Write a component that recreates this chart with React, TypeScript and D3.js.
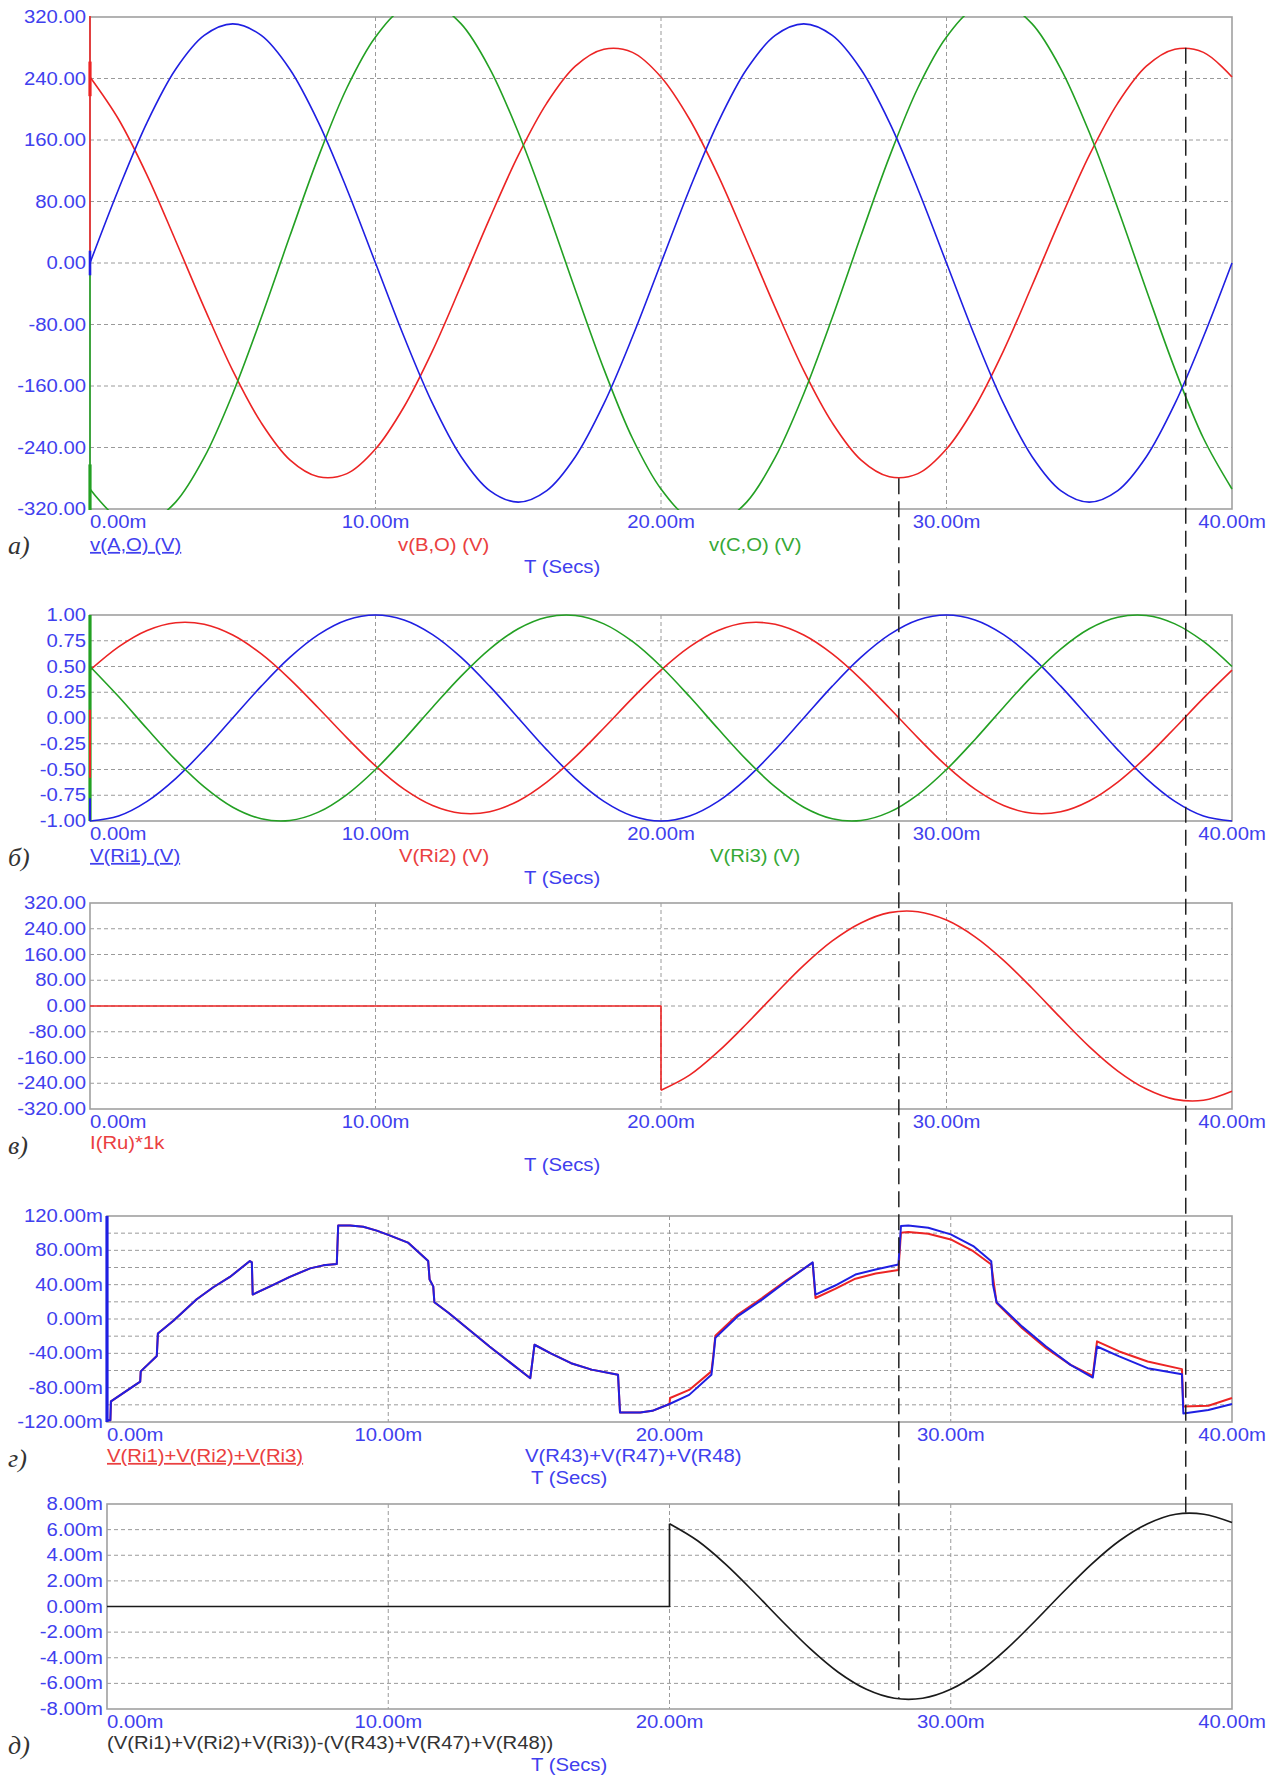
import React, { useEffect, useRef } from 'react';
import * as d3 from 'd3';

// time samples (ms)
const tMs = [0, 1, 2, 3, 4, 5, 6, 7, 8, 9, 10, 11, 12, 13, 14, 15, 16, 17, 18, 19, 20,
  21, 22, 23, 24, 25, 26, 27, 28, 29, 30, 31, 32, 33, 34, 35, 36, 37, 38, 39, 40];
const tHalf = [20, 21, 22, 23, 24, 25, 26, 27, 28, 29, 30, 31, 32, 33, 34, 35, 36, 37, 38, 39, 40];
const xTicks = [0, 10, 20, 30, 40];

// panel а) phase voltages
const vAO = [0, 96, 183, 252, 296, 311, 296, 252, 183, 96, 0, -96, -183, -252, -296, -311, -296, -252, -183, -96,
  0, 96, 183, 252, 296, 311, 296, 252, 183, 96, 0, -96, -183, -252, -296, -311, -296, -252, -183, -96, 0];
const vBO = [242, 187, 114, 29, -58, -140, -208, -256, -278, -274, -242, -187, -114, -29, 58, 140, 208, 256, 278, 274,
  242, 187, 114, 29, -58, -140, -208, -256, -278, -274, -242, -187, -114, -29, 58, 140, 208, 256, 278, 274, 242];
const vCO = [-294, -332, -338, -311, -253, -170, -71, 35, 138, 228, 294, 332, 338, 311, 253, 170, 71, -35, -138, -228,
  -294, -332, -338, -311, -253, -170, -71, 35, 138, 228, 294, 332, 338, 311, 253, 170, 71, -35, -138, -228, -294];
const spikeAO = [-16, 16];
const spikeBO = [-10, 330];
const spikeBOThick = [217, 262];
const spikeCO = [-10, -330];
const spikeCOThick = [-262, -330];
const yTicksA = [320, 240, 160, 80, 0, -80, -160, -240, -320];

// panel б)
const vRi1 = [-1, -0.951, -0.809, -0.588, -0.309, 0, 0.309, 0.588, 0.809, 0.951, 1, 0.951, 0.809, 0.588, 0.309, 0, -0.309, -0.588, -0.809, -0.951,
  -1, -0.951, -0.809, -0.588, -0.309, 0, 0.309, 0.588, 0.809, 0.951, 1, 0.951, 0.809, 0.588, 0.309, 0, -0.309, -0.588, -0.809, -0.951, -1];
const vRi2 = [0.465, 0.691, 0.85, 0.925, 0.91, 0.805, 0.622, 0.378, 0.097, -0.193, -0.465, -0.691, -0.85, -0.925, -0.91, -0.805, -0.622, -0.378, -0.097, 0.193,
  0.465, 0.691, 0.85, 0.925, 0.91, 0.805, 0.622, 0.378, 0.097, -0.193, -0.465, -0.691, -0.85, -0.925, -0.91, -0.805, -0.622, -0.378, -0.097, 0.193, 0.465];
const vRi3 = [0.5, 0.208, -0.105, -0.407, -0.669, -0.866, -0.978, -0.995, -0.914, -0.743, -0.5, -0.208, 0.105, 0.407, 0.669, 0.866, 0.978, 0.995, 0.914, 0.743,
  0.5, 0.208, -0.105, -0.407, -0.669, -0.866, -0.978, -0.995, -0.914, -0.743, -0.5, -0.208, 0.105, 0.407, 0.669, 0.866, 0.978, 0.995, 0.914, 0.743, 0.5];
const spikeRi1 = [-1, -0.78];
const spikeRi2 = [0.08, -0.58];
const spikeRi3 = [-1, 1];
const yTicksB = [1, 0.75, 0.5, 0.25, 0, -0.25, -0.5, -0.75, -1];

// panel в) I(Ru)*1k
const iRuFlat = [0, 0];
const iRuWave = [-262, -215, -142, -55, 37, 126, 202, 258, 290, 293, 267, 215, 142, 55, -37, -126, -202, -258, -290, -293, -265];
const yTicksC = [320, 240, 160, 80, 0, -80, -160, -240, -320];

// panel г) sums, mV
const sumR: [number, number][] = [
  [0, -118], [0.12, -118], [0.14, -96], [1.18, -73], [1.2, -61], [1.77, -43], [1.81, -17], [2.36, -2], [3.19, 23],
  [3.78, 37], [4.37, 49], [5.08, 67.5], [5.15, 66], [5.18, 28.5], [5.8, 38], [6.5, 49], [7.22, 59], [7.69, 62.5],
  [8.17, 64], [8.22, 109], [8.64, 109], [9.11, 107.5], [9.59, 103], [10.0, 98], [10.7, 89], [11.42, 67.5],
  [11.47, 46], [11.6, 38], [11.64, 19.5], [12.15, 7], [13.6, -32], [15.05, -69], [15.2, -30], [15.78, -40],
  [16.5, -51.5], [17.23, -59], [18.17, -65], [18.24, -109], [18.96, -109], [19.39, -107], [20.0, -99],
  [20.7, -88.4], [21.49, -65], [21.56, -45], [21.63, -22], [22.42, 3], [23.29, 22.6], [24.16, 44], [25.09, 66],
  [25.19, 28.4], [25.89, 39], [26.61, 51.8], [27.33, 57.7], [28.14, 63.5], [28.23, 108.3], [28.49, 109],
  [29.2, 106.4], [30.0, 98.6], [30.8, 85], [31.44, 67.4], [31.5, 40], [31.63, 19.5], [32.53, -8.6], [33.39, -32],
  [34.26, -53.4], [35.05, -68.2], [35.2, -32], [35.99, -43.6], [37.0, -57.3], [38.22, -64.3], [38.27, -110],
  [39.16, -106], [40.0, -99]
];
const sumRiTail: [number, number][] = [
  [20.0, -99], [20.02, -92], [20.7, -82.6], [21.49, -61], [21.56, -42], [21.63, -19.5], [22.42, 5], [23.29, 24.5],
  [24.16, 45], [25.09, 65.5], [25.19, 24.5], [25.89, 35], [26.61, 47], [27.33, 53], [28.14, 57], [28.23, 100.5],
  [28.49, 101.3], [29.2, 99.4], [30.0, 92.7], [30.8, 79], [31.44, 63.5], [31.63, 18.7], [32.53, -10.5],
  [33.39, -34], [34.26, -53.4], [35.05, -66.2], [35.2, -26], [35.99, -37.8], [37.0, -49.5], [38.22, -58.4],
  [38.27, -102], [39.16, -101], [40.0, -92]
];
const spikeR = [-120, 120];
const yTicksD = [120, 80, 40, 0, -40, -80, -120];
const yGridD = [120, 100, 80, 60, 40, 20, 0, -20, -40, -60, -80, -100, -120];

// panel д) difference, mV
const diffFlat = [0, 0];
const diffWave = [6.46, 5.13, 3.29, 1.13, -1.13, -3.29, -5.13, -6.46, -7.16, -7.16, -6.46, -5.13, -3.29, -1.13,
  1.13, 3.29, 5.13, 6.46, 7.2, 7.2, 6.55];
const yTicksE = [8, 6, 4, 2, 0, -2, -4, -6, -8];

// vertical dashed markers
const markerT = [28.33, 38.38];
const markerFrom = [-280, 280];
const markerTo = [-7.2, 7.3];

const BLUE = '#1f1fe2';
const RED = '#ec2424';
const GREEN = '#23a023';
const BLACK = '#1a1a1a';
const TXT_BLUE = '#4040ee';
const TXT_RED = '#ea4040';
const TXT_GREEN = '#36a836';
const TXT_BLACK = '#333333';
const FONT = '"Liberation Sans", Arial, sans-serif';
const SX = 1.16;

function addText(g, x, y, str, color, anchor = 'start', underline = false) {
  g.append('text')
    .attr('transform', `translate(${x},${y}) scale(${SX},1)`)
    .attr('text-anchor', anchor)
    .attr('font-family', FONT)
    .attr('font-size', 17.5)
    .attr('fill', color)
    .style('text-decoration', underline ? 'underline' : 'none')
    .text(str);
}

function drawPanel(svg, p) {
  const x = d3.scaleLinear().domain([0, 40]).range([p.left, p.right]);
  const y = d3.scaleLinear().domain([p.yTicks[p.yTicks.length - 1], p.yTicks[0]]).range([p.bottom, p.top]);
  const g = svg.append('g');

  // grid
  g.selectAll('.vg').data(xTicks.slice(1, -1)).join('line')
    .attr('x1', d => x(d)).attr('x2', d => x(d))
    .attr('y1', p.top).attr('y2', p.bottom)
    .attr('stroke', '#9a9a9a').attr('stroke-width', 1).attr('stroke-dasharray', '4,3');
  g.selectAll('.hg').data((p.yGrid || p.yTicks).slice(1, -1)).join('line')
    .attr('x1', p.left).attr('x2', p.right)
    .attr('y1', d => y(d)).attr('y2', d => y(d))
    .attr('stroke', '#9a9a9a').attr('stroke-width', 1).attr('stroke-dasharray', '4,3');

  g.append('rect')
    .attr('x', p.left).attr('y', p.top)
    .attr('width', p.right - p.left).attr('height', p.bottom - p.top)
    .attr('fill', 'none').attr('stroke', '#a0a0a0').attr('stroke-width', 1.6);

  // y labels
  p.yTicks.forEach(v => addText(g, p.left - 4, y(v) + 6, p.fmt(v), TXT_BLUE, 'end'));
  // x labels
  xTicks.forEach((t, i) => addText(g, i === 0 ? p.left : x(t), p.bottom + 19, `${t.toFixed(2)}m`, TXT_BLUE, i === 0 ? 'start' : 'middle'));

  svg.append('clipPath').attr('id', p.id)
    .append('rect')
    .attr('x', p.left - 2).attr('y', p.top - 1)
    .attr('width', p.right - p.left + 3).attr('height', p.bottom - p.top + 2);
  const plot = svg.append('g').attr('clip-path', `url(#${p.id})`);

  // panel letter
  svg.append('text')
    .attr('x', 8).attr('y', p.bottom + 45)
    .attr('font-family', '"Liberation Serif", "DejaVu Serif", serif')
    .attr('font-style', 'italic')
    .attr('font-size', 26)
    .attr('fill', TXT_BLACK)
    .text(p.letter);

  return { x, y, plot, g };
}

function curvePath(plot, pts, x, y, color, width, curve) {
  const line = d3.line<[number, number]>().x(d => x(d[0])).y(d => y(d[1])).curve(curve);
  plot.append('path').datum(pts).attr('d', line)
    .attr('fill', 'none').attr('stroke', color).attr('stroke-width', width)
    .attr('stroke-linejoin', 'round');
}

function spike(plot, vals, x, y, color, width) {
  plot.append('line')
    .attr('x1', x(0)).attr('x2', x(0))
    .attr('y1', y(vals[0])).attr('y2', y(vals[1]))
    .attr('stroke', color).attr('stroke-width', width);
}

const smooth = d3.curveCatmullRom.alpha(0.5);
const zip = (ts, vs) => ts.map((t, i) => [t, vs[i]] as [number, number]);

const App = () => {
  const svgRef = useRef(null);

  useEffect(() => {
    const svg = d3.select(svgRef.current);
    svg.selectAll('*').remove();
    svg.append('rect').attr('width', 1278).attr('height', 1778).attr('fill', '#fff');

    // а)
    const a = drawPanel(svg, { id: 'cA', left: 90, right: 1232, top: 17, bottom: 509, yTicks: yTicksA, fmt: v => v.toFixed(2), letter: 'а)' });
    curvePath(a.plot, zip(tMs, vBO), a.x, a.y, RED, 1.6, smooth);
    curvePath(a.plot, zip(tMs, vCO), a.x, a.y, GREEN, 1.6, smooth);
    curvePath(a.plot, zip(tMs, vAO), a.x, a.y, BLUE, 1.6, smooth);
    spike(a.plot, spikeCO, a.x, a.y, GREEN, 1.6);
    spike(a.plot, spikeCOThick, a.x, a.y, GREEN, 3.2);
    spike(a.plot, spikeBO, a.x, a.y, RED, 1.6);
    spike(a.plot, spikeBOThick, a.x, a.y, RED, 3.2);
    spike(a.plot, spikeAO, a.x, a.y, BLUE, 2.6);
    addText(svg, 90, 551, 'v(A,O) (V)', TXT_BLUE, 'start', true);
    addText(svg, 398, 551, 'v(B,O) (V)', TXT_RED);
    addText(svg, 709, 551, 'v(C,O) (V)', TXT_GREEN);
    addText(svg, 524, 573, 'T (Secs)', TXT_BLUE);

    // б)
    const b = drawPanel(svg, { id: 'cB', left: 90, right: 1232, top: 615, bottom: 821, yTicks: yTicksB, fmt: v => v.toFixed(2), letter: 'б)' });
    curvePath(b.plot, zip(tMs, vRi1), b.x, b.y, BLUE, 1.6, smooth);
    curvePath(b.plot, zip(tMs, vRi2), b.x, b.y, RED, 1.6, smooth);
    curvePath(b.plot, zip(tMs, vRi3), b.x, b.y, GREEN, 1.6, smooth);
    spike(b.plot, spikeRi3, b.x, b.y, GREEN, 3.2);
    spike(b.plot, spikeRi2, b.x, b.y, RED, 2);
    spike(b.plot, spikeRi1, b.x, b.y, BLUE, 2);
    addText(svg, 90, 862, 'V(Ri1) (V)', TXT_BLUE, 'start', true);
    addText(svg, 399, 862, 'V(Ri2) (V)', TXT_RED);
    addText(svg, 710, 862, 'V(Ri3) (V)', TXT_GREEN);
    addText(svg, 524, 884, 'T (Secs)', TXT_BLUE);

    // в)
    const c = drawPanel(svg, { id: 'cC', left: 90, right: 1232, top: 903, bottom: 1109, yTicks: yTicksC, fmt: v => v.toFixed(2), letter: 'в)' });
    curvePath(c.plot, [[0, iRuFlat[0]], [20, iRuFlat[1]], [20, iRuWave[0]]], c.x, c.y, RED, 1.6, d3.curveLinear);
    curvePath(c.plot, zip(tHalf, iRuWave), c.x, c.y, RED, 1.6, smooth);
    addText(svg, 90, 1149, 'I(Ru)*1k', TXT_RED);
    addText(svg, 524, 1171, 'T (Secs)', TXT_BLUE);

    // г)
    const d = drawPanel(svg, { id: 'cD', left: 107, right: 1232, top: 1216, bottom: 1422, yTicks: yTicksD, yGrid: yGridD, fmt: v => `${v.toFixed(2)}m`, letter: 'г)' });
    const sumRi = [...sumR.filter(p => p[0] < 20), ...sumRiTail];
    curvePath(d.plot, sumRi, d.x, d.y, RED, 2, d3.curveLinear);
    curvePath(d.plot, sumR, d.x, d.y, BLUE, 2, d3.curveLinear);
    spike(d.plot, spikeR, d.x, d.y, BLUE, 3.2);
    addText(svg, 107, 1462, 'V(Ri1)+V(Ri2)+V(Ri3)', TXT_RED, 'start', true);
    addText(svg, 525, 1462, 'V(R43)+V(R47)+V(R48)', TXT_BLUE);
    addText(svg, 531, 1484, 'T (Secs)', TXT_BLUE);

    // д)
    const e = drawPanel(svg, { id: 'cE', left: 107, right: 1232, top: 1504, bottom: 1709, yTicks: yTicksE, fmt: v => `${v.toFixed(2)}m`, letter: 'д)' });
    curvePath(e.plot, [[0, diffFlat[0]], [20, diffFlat[1]], [20, diffWave[0]]], e.x, e.y, BLACK, 1.7, d3.curveLinear);
    curvePath(e.plot, zip(tHalf, diffWave), e.x, e.y, BLACK, 1.7, smooth);
    addText(svg, 107, 1749, '(V(Ri1)+V(Ri2)+V(Ri3))-(V(R43)+V(R47)+V(R48))', TXT_BLACK);
    addText(svg, 531, 1771, 'T (Secs)', TXT_BLUE);

    // dashed markers through all panels
    svg.selectAll('.marker').data(markerT).join('line')
      .attr('x1', t => a.x(t)).attr('x2', t => a.x(t))
      .attr('y1', (t, i) => a.y(markerFrom[i]))
      .attr('y2', (t, i) => e.y(markerTo[i]))
      .attr('stroke', '#222').attr('stroke-width', 1.5)
      .attr('stroke-dasharray', '16,7');
  }, []);

  return (
    <svg ref={svgRef} width={1278} height={1778}
      style={{ position: 'absolute', left: 0, top: 0, display: 'block', background: '#fff' }} />
  );
};

export default App;
